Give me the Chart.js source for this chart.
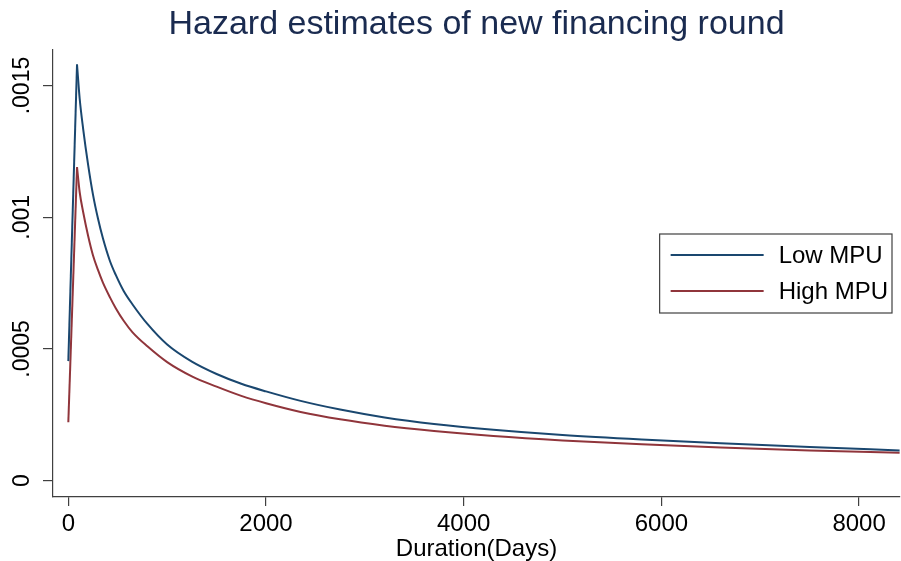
<!DOCTYPE html>
<html>
<head>
<meta charset="utf-8">
<script src="https://cdn.jsdelivr.net/npm/chart.js@4.4.1/dist/chart.umd.min.js"></script>
<style>
  html, body { margin: 0; padding: 0; background: #fff; }
  #hazard { display: block; }
</style>
</head>
<body>
<canvas id="hazard" width="901" height="561"></canvas>
<script>
// values (duration in days, hazard rate)
var days = [0, 88, 115, 150, 200, 250, 300, 350, 420, 480, 560, 650, 800, 1000, 1250, 1500, 1750, 2000, 2350, 2750, 3200, 3700, 4300, 5000, 5800, 6600, 7500, 8410];
var lowMPU = [0.000454, 0.00158, 0.00145, 0.001336, 0.00120, 0.001085, 0.000995, 0.00092, 0.000835, 0.000781, 0.00072, 0.000669, 0.000595, 0.000517, 0.000452, 0.000405, 0.000368, 0.000339, 0.000303, 0.00027, 0.00024, 0.000215, 0.000193, 0.000173, 0.000156, 0.000142, 0.000128, 0.000115];
var highMPU = [0.000222, 0.00119, 0.001095, 0.00102, 0.00093, 0.000855, 0.0008, 0.000752, 0.000697, 0.000655, 0.000607, 0.000563, 0.00051, 0.00045, 0.000396, 0.000357, 0.000322, 0.000294, 0.000261, 0.000233, 0.000209, 0.000189, 0.00017, 0.000153, 0.000138, 0.000126, 0.000115, 0.000106];
var xTicks = [0, 2000, 4000, 6000, 8000];
var yTicks = [0, 0.0005, 0.001, 0.0015];
var peakIdx = 1; // straight rise up to the peak, smooth decay after it

var font = 'Helvetica, "Liberation Sans", Arial, sans-serif';
var axisColor = '#404040';

function toPoints(ys, from, to) {
  var pts = [];
  for (var i = from; i <= to; i++) pts.push({ x: days[i], y: ys[i] });
  return pts;
}

function series(label, ys, color) {
  var base = { borderColor: color, borderWidth: 2, pointRadius: 0, fill: false };
  var rise = Object.assign({ data: toPoints(ys, 0, peakIdx) }, base);
  var decay = Object.assign({ label: label, data: toPoints(ys, peakIdx, ys.length - 1), cubicInterpolationMode: 'monotone' }, base);
  return [decay, rise];
}

// legend box drawn inside the plot, right side, vertically centred
var boxLegend = {
  id: 'boxLegend',
  afterDraw: function(chart) {
    var ctx = chart.ctx;
    var area = chart.chartArea;
    var sets = chart.data.datasets.filter(function(ds) { return ds.label; });
    ctx.save();
    ctx.font = '24px ' + font;
    var textW = 0;
    sets.forEach(function(ds) { textW = Math.max(textW, ctx.measureText(ds.label).width); });
    var rowH = 36;
    var w = 11 + 93 + 15 + textW + 4;
    var h = rowH * sets.length + 7;
    var right = area.right - 8;
    var left = right - w;
    var top = (area.top + area.bottom) / 2 - h / 2;
    ctx.fillStyle = '#fff';
    ctx.fillRect(left, top, w, h);
    ctx.strokeStyle = axisColor;
    ctx.lineWidth = 1.2;
    ctx.strokeRect(left, top, w, h);
    sets.forEach(function(ds, i) {
      var y = top + 21 + i * rowH;
      ctx.strokeStyle = ds.borderColor;
      ctx.lineWidth = 2;
      ctx.beginPath();
      ctx.moveTo(left + 11, y);
      ctx.lineTo(left + 104, y);
      ctx.stroke();
      ctx.fillStyle = '#000';
      ctx.textBaseline = 'middle';
      ctx.fillText(ds.label, left + 119, y + 1);
    });
    ctx.restore();
  }
};

var ctx = document.getElementById('hazard').getContext('2d');
var hazardChart = new Chart(ctx, {
  type: 'line',
  data: {
    datasets: series('Low MPU', lowMPU, '#1a476f').concat(series('High MPU', highMPU, '#90353b'))
  },
  options: {
    responsive: false,
    animation: false,
    events: [],
    layout: { padding: { top: 0, right: 1, bottom: 0, left: 0 } },
    plugins: {
      legend: { display: false },
      tooltip: { enabled: false },
      title: {
        display: true,
        fullSize: false,
        text: 'Hazard estimates of new financing round',
        color: '#1a2b50',
        font: { family: font, size: 34, weight: 'normal', lineHeight: 1.2 },
        padding: { top: 4.6, bottom: 4.6 }
      }
    },
    scales: {
      x: {
        type: 'linear',
        min: -155,
        max: 8414,
        afterBuildTicks: function(scale) {
          scale.ticks = xTicks.map(function(v) { return { value: v }; });
        },
        afterFit: function(scale) { scale.height = 64; },
        ticks: {
          color: '#000',
          padding: 4,
          maxRotation: 0,
          font: { family: font, size: 24 },
          callback: function(v) { return String(v); }
        },
        grid: { drawOnChartArea: false, drawTicks: true, tickLength: 9, color: axisColor, lineWidth: 1.2 },
        border: { display: true, color: axisColor, width: 1.2 },
        title: {
          display: true,
          text: 'Duration(Days)',
          color: '#000',
          font: { family: font, size: 24, lineHeight: 1 },
          padding: { top: 0, bottom: 0 }
        }
      },
      y: {
        type: 'linear',
        min: -0.0000619,
        max: 0.001635,
        afterBuildTicks: function(scale) {
          scale.ticks = yTicks.map(function(v) { return { value: v }; });
        },
        afterFit: function(scale) { scale.width = 53; },
        ticks: {
          color: '#000',
          minRotation: 90,
          maxRotation: 90,
          crossAlign: 'center',
          padding: -8,
          font: { family: font, size: 23 },
          callback: function(v) { return v === 0 ? '0' : String(v).replace(/^0/, ''); }
        },
        grid: { drawOnChartArea: false, drawTicks: true, tickLength: 10, color: axisColor, lineWidth: 1.2 },
        border: { display: true, color: axisColor, width: 1.2 }
      }
    }
  },
  plugins: [boxLegend]
});
</script>
</body>
</html>
